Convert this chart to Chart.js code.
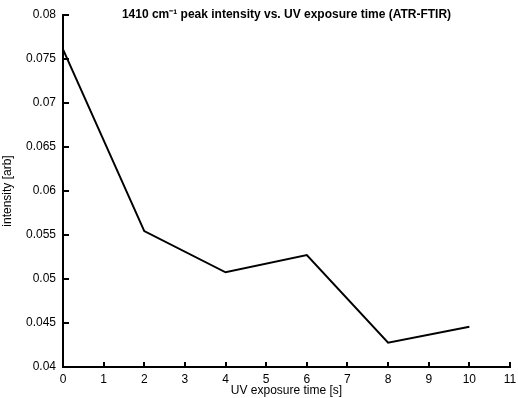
<!DOCTYPE html>
<html>
<head>
<meta charset="utf-8">
<script src="https://cdn.jsdelivr.net/npm/chart.js@4/dist/chart.umd.min.js"></script>
<style>
  html, body { margin: 0; padding: 0; background: #fff; }
  #wrap { width: 518px; height: 398px; }
</style>
</head>
<body>
<div id="wrap"><canvas id="grafico"></canvas></div>
<script>
var tiempos = [0, 2, 4, 6, 8, 10];
var intensidades = [0.0761, 0.05545, 0.05076, 0.05273, 0.04276, 0.04458];
var ticksX = [0, 1, 2, 3, 4, 5, 6, 7, 8, 9, 10, 11];
var ticksY = [0.04, 0.045, 0.05, 0.055, 0.06, 0.065, 0.07, 0.075, 0.08];
var titulo = '1410 cm\u207B\u00B9 peak intensity vs. UV exposure time (ATR-FTIR)';
var fuente = '"Liberation Sans", Arial, Helvetica, sans-serif';

// ticks hacia adentro + titulo
var marcas = {
    id: 'marcas',
    afterDraw: function (chart) {
        var ctx = chart.ctx;
        var x = chart.scales.x, y = chart.scales.y;
        var area = chart.chartArea;
        ctx.save();
        ctx.strokeStyle = '#000';
        ctx.lineWidth = 2;
        ctx.beginPath();
        ticksX.forEach(function (v) {
            var px = Math.round(x.getPixelForValue(v));
            ctx.moveTo(px, area.bottom);
            ctx.lineTo(px, area.bottom - 5);
        });
        ticksY.forEach(function (v) {
            var py = Math.round(y.getPixelForValue(v));
            ctx.moveTo(area.left, py);
            ctx.lineTo(area.left + 6, py);
        });
        ctx.stroke();
        ctx.fillStyle = '#000';
        ctx.font = 'bold 12px ' + fuente;
        ctx.textAlign = 'center';
        ctx.textBaseline = 'middle';
        ctx.fillText(titulo, (area.left + area.right) / 2, 15);
        ctx.restore();
    }
};

var datos = tiempos.map(function (t, i) { return {x: t, y: intensidades[i]}; });

new Chart(document.getElementById('grafico'), {
    type: 'line',
    data: {
        datasets: [{
            data: datos,
            borderColor: '#000',
            borderWidth: 2,
            pointRadius: 0,
            tension: 0,
            fill: false
        }]
    },
    options: {
        responsive: true,
        maintainAspectRatio: false,
        animation: false,
        layout: { padding: { top: 15, right: 0, left: 0, bottom: 0 } },
        plugins: { legend: { display: false }, tooltip: { enabled: false } },
        scales: {
            x: {
                type: 'linear',
                min: 0, max: 11,
                afterBuildTicks: function (s) { s.ticks = ticksX.map(function (v) { return {value: v}; }); },
                afterFit: function (s) { s.height = 31; s.paddingRight = 8; s.paddingLeft = 0; },
                grid: { display: true, drawOnChartArea: false, drawTicks: false },
                border: { display: true, color: '#000', width: 2 },
                ticks: { color: '#000', padding: 5, maxRotation: 0, font: { family: fuente, size: 12 } },
                title: { display: true, text: 'UV exposure time [s]', color: '#000', padding: { top: 0, bottom: 0 }, font: { family: fuente, size: 12 } }
            },
            y: {
                type: 'linear',
                min: 0.04, max: 0.08,
                afterBuildTicks: function (s) { s.ticks = ticksY.map(function (v) { return {value: v}; }); },
                afterFit: function (s) { s.width = 63; },
                grid: { display: true, drawOnChartArea: false, drawTicks: false },
                border: { display: true, color: '#000', width: 2 },
                ticks: {
                    color: '#000', padding: 7, font: { family: fuente, size: 12 },
                    callback: function (v) { return String(parseFloat(v.toFixed(3))); }
                },
                title: { display: true, text: 'intensity [arb]', color: '#000', padding: { top: 0, bottom: 0 }, font: { family: fuente, size: 12 } }
            }
        }
    },
    plugins: [marcas]
});
</script>
</body>
</html>
